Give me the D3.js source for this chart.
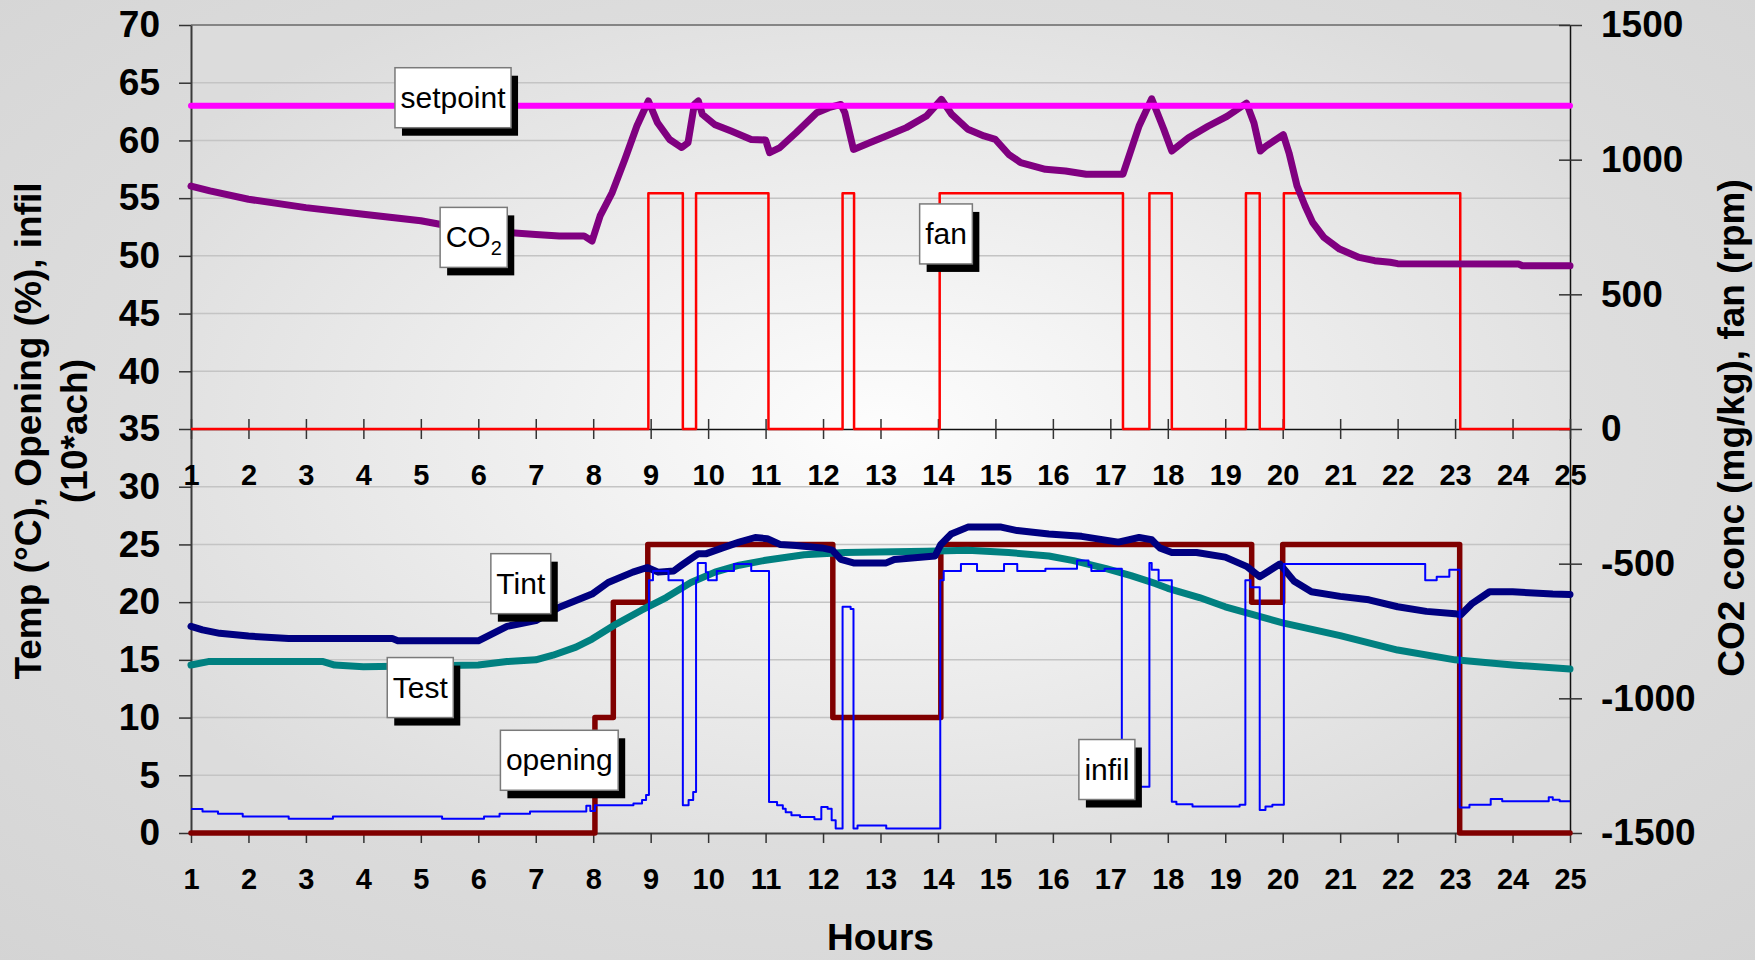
<!DOCTYPE html>
<html>
<head>
<meta charset="utf-8">
<script src="https://cdn.jsdelivr.net/npm/d3@7"></script>
<style>
  html, body { margin: 0; padding: 0; background: #dcdcdc; }
  svg { display: block; font-family: Arial, "Liberation Sans", sans-serif; }
</style>
</head>
<body>
<div id="chart"></div>
<script>
/*
	Greenhouse ventilation day: CO2 / fan on top, temperatures / opening / infil below
*/

// ---- data ----
var hourTicks = d3.range(1, 26);                 // 1 .. 25
var leftTicks = d3.range(0, 71, 5);              // 0 .. 70
var rightTicks = d3.range(-1500, 1501, 500);     // -1500 .. 1500

// [hour, mg/kg]
var setpoint = [[1, 1200], [25, 1200]];
var co2 = [[1, 902], [1.33, 884], [2, 853], [3, 822], [4, 797], [5, 773], [5.33, 760], [6, 742],
  [6.47, 730], [7, 722], [7.41, 717], [7.84, 717], [7.98, 698], [8.12, 791], [8.33, 878], [8.55, 1001],
  [8.76, 1125], [8.96, 1218], [9.12, 1137], [9.33, 1075], [9.54, 1045], [9.65, 1063], [9.76, 1205],
  [9.83, 1218], [9.9, 1168], [10.11, 1131], [10.4, 1106], [10.75, 1075], [11.0, 1073], [11.07, 1026],
  [11.25, 1045], [11.53, 1100], [11.89, 1174], [12.1, 1193], [12.31, 1205], [12.38, 1174], [12.53, 1038],
  [12.81, 1063], [13.1, 1088], [13.45, 1119], [13.8, 1162], [14.06, 1224], [14.24, 1168], [14.52, 1113],
  [14.8, 1088], [15.0, 1075], [15.23, 1020], [15.44, 989], [15.87, 964], [16.22, 958], [16.58, 946],
  [17.22, 946], [17.5, 1125], [17.72, 1226], [17.93, 1113], [18.07, 1032], [18.36, 1081], [18.7, 1124],
  [19.03, 1161], [19.37, 1210], [19.5, 1136], [19.61, 1032], [19.71, 1050], [20.01, 1093], [20.11, 1025],
  [20.25, 902], [20.39, 828], [20.52, 767], [20.72, 711], [20.99, 668], [21.33, 637], [21.6, 625],
  [21.87, 619], [22, 614], [24.1, 613], [24.17, 606], [25, 606]];

// [hour, rpm], value holds until the next entry
var fan = [[1, 0], [8.96, 875], [9.56, 0], [9.79, 875], [11.05, 0], [12.34, 875], [12.54, 0],
  [14.03, 875], [17.22, 0], [17.68, 875], [18.07, 0], [19.36, 875], [19.6, 0], [20.02, 875],
  [23.09, 0], [25, 0]];

// [hour, degC]
var tint = [[1, 17.9], [1.2, 17.6], [1.5, 17.3], [2, 17.06], [2.7, 16.86], [4.5, 16.86], [4.6, 16.65],
  [6, 16.65], [6.5, 17.9], [7, 18.4], [7.41, 19.56], [7.98, 20.7], [8.26, 21.7], [8.69, 22.6], [8.94, 23.0],
  [9.13, 22.6], [9.4, 22.7], [9.54, 23.2], [9.83, 24.2], [9.97, 24.2], [10.25, 24.7], [10.54, 25.2],
  [10.82, 25.6], [11.03, 25.5], [11.25, 25.0], [11.53, 24.9], [11.98, 24.7], [12.16, 24.5], [12.31, 23.7],
  [12.53, 23.4], [13.1, 23.4], [13.24, 23.7], [13.95, 24.0], [14.05, 25.0], [14.23, 25.9], [14.52, 26.5],
  [15.1, 26.5], [15.38, 26.2], [15.93, 25.9], [16.5, 25.7], [17.14, 25.2], [17.5, 25.6], [17.72, 25.4],
  [17.86, 24.7], [18.07, 24.3], [18.5, 24.3], [19.0, 23.9], [19.37, 23.1], [19.6, 22.2], [19.95, 23.3],
  [20.2, 21.8], [20.5, 20.9], [21.0, 20.5], [21.5, 20.2], [22.0, 19.6], [22.5, 19.2], [23.0, 19.0],
  [23.1, 18.9], [23.3, 19.9], [23.6, 20.9], [24.0, 20.9], [24.7, 20.7], [25, 20.66]];
var test = [[1, 14.55], [1.3, 14.85], [3.3, 14.85], [3.5, 14.55], [4, 14.4], [6, 14.55], [6.5, 14.85],
  [7, 15.0], [7.3, 15.4], [7.7, 16.1], [7.98, 16.8], [8.4, 18.1], [8.84, 19.3], [9.27, 20.4], [9.7, 21.7],
  [10.12, 22.6], [10.54, 23.2], [10.97, 23.6], [11.67, 24.1], [12.38, 24.3], [13.8, 24.4], [14.52, 24.5],
  [15.23, 24.3], [15.93, 24.0], [16.36, 23.6], [16.93, 22.9], [17.36, 22.3], [17.79, 21.6], [18.0, 21.2],
  [18.55, 20.4], [19, 19.6], [20, 18.2], [21, 17.1], [22, 15.85], [23, 15.0], [24, 14.55], [25, 14.2]];

// [hour, %], value holds until the next entry
var opening = [[1, 0], [8.03, 10], [8.35, 20], [8.95, 25], [12.17, 10], [14.05, 25], [19.46, 20],
  [20.0, 25], [23.08, 0], [25, 0]];

// [hour, 10*ach], value holds until the next entry
var infil = [[1, 2.07], [1.2, 1.87], [1.47, 1.67], [1.9, 1.44], [2.7, 1.24], [3.47, 1.44], [5.37, 1.24],
  [6.1, 1.44], [6.37, 1.67], [6.9, 1.87], [7.88, 2.35], [7.95, 1.9], [8.03, 2.4], [8.7, 2.55], [8.85, 2.85],
  [8.92, 3.3], [8.97, 21.9], [9.04, 22.7], [9.31, 21.9], [9.56, 2.4], [9.66, 2.85], [9.74, 3.55],
  [9.79, 21.9], [9.82, 23.4], [9.96, 22.6], [10.0, 21.9], [10.15, 22.7], [10.45, 23.3], [10.75, 22.7],
  [11.06, 2.68], [11.2, 2.4], [11.3, 2.1], [11.35, 1.8], [11.45, 1.53], [11.6, 1.38], [11.85, 1.2],
  [11.97, 2.25], [12.08, 2.1], [12.15, 1.1], [12.22, 0.4], [12.34, 19.6], [12.48, 19.4], [12.53, 0.4],
  [12.6, 0.66], [13.1, 0.4], [14.04, 21.9], [14.1, 22.7], [14.4, 23.3], [14.68, 22.7], [15.15, 23.3],
  [15.38, 22.7], [15.87, 22.9], [16.42, 23.6], [16.62, 23.2], [16.67, 22.7], [16.9, 22.9], [17.2, 4.0],
  [17.68, 23.4], [17.72, 22.8], [17.84, 21.9], [18.07, 2.7], [18.15, 2.5], [18.43, 2.3], [19.25, 2.45],
  [19.35, 21.9], [19.44, 21.3], [19.6, 2.0], [19.7, 2.3], [19.82, 2.45], [20.02, 23.3], [22.48, 21.9],
  [22.68, 22.2], [22.9, 22.8], [23.08, 2.2], [23.25, 2.45], [23.62, 2.94], [23.82, 2.74], [24.63, 3.1],
  [24.7, 2.88], [24.82, 2.74], [25, 2.74]];

// callout anchors (hour, left-axis value)
var callouts = [
  {text: "setpoint", hour: 5.56, value: 63.7},
  {text: "CO", sub: "2", hour: 5.92, value: 51.6},
  {text: "fan", hour: 14.14, value: 51.9},
  {text: "Tint", hour: 6.74, value: 21.6},
  {text: "Test", hour: 4.99, value: 12.6},
  {text: "opening", hour: 7.41, value: 6.3},
  {text: "infil", hour: 16.94, value: 5.5}
];

function makeChart() {
    var chartObj = {};
    chartObj.width = 1755;
    chartObj.height = 960;
    chartObj.plot = {left: 191, right: 1570, top: 25, bottom: 833};

    var p = chartObj.plot;
    chartObj.xScale = d3.scaleLinear().domain([1, 25]).range([p.left, p.right]);
    chartObj.yLeft = d3.scaleLinear().domain([0, 70]).range([p.bottom, p.top]);
    chartObj.yRight = d3.scaleLinear().domain([-1500, 1500]).range([p.bottom, p.top]);

    chartObj.render = function (chart_id) {
        var x = chartObj.xScale, yL = chartObj.yLeft, yR = chartObj.yRight;

        var svg = d3.select(chart_id).append("svg")
            .attr("width", chartObj.width)
            .attr("height", chartObj.height);

        // gradients
        var defs = svg.append("defs");
        var bg = defs.append("radialGradient").attr("id", "bgGrad")
            .attr("cx", "50%").attr("cy", "45%").attr("r", "75%");
        bg.append("stop").attr("offset", "0%").attr("stop-color", "#e9e9e9");
        bg.append("stop").attr("offset", "100%").attr("stop-color", "#d4d4d4");
        var pg = defs.append("radialGradient").attr("id", "plotGrad")
            .attr("cx", "50%").attr("cy", "50%").attr("r", "62%");
        pg.append("stop").attr("offset", "0%").attr("stop-color", "#fdfdfd");
        pg.append("stop").attr("offset", "100%").attr("stop-color", "#dcdcdc");

        svg.append("rect").attr("width", chartObj.width).attr("height", chartObj.height)
            .attr("fill", "url(#bgGrad)");
        svg.append("rect")
            .attr("x", p.left).attr("y", p.top)
            .attr("width", p.right - p.left).attr("height", p.bottom - p.top)
            .attr("fill", "url(#plotGrad)");

        // horizontal gridlines
        svg.append("g").selectAll("line")
            .data(leftTicks.filter(function (d) { return d > 0 && d < 70 && d !== 35; }))
            .enter().append("line")
            .attr("x1", p.left).attr("x2", p.right)
            .attr("y1", function (d) { return yL(d); })
            .attr("y2", function (d) { return yL(d); })
            .attr("stroke", "#c4c4c4").attr("stroke-width", 1.5);
        svg.append("line")
            .attr("x1", p.left).attr("x2", p.right)
            .attr("y1", yL(70)).attr("y2", yL(70))
            .attr("stroke", "#858585").attr("stroke-width", 2);

        // axes
        var tickFont = function (g, size) {
            g.attr("font-family", "Arial, 'Liberation Sans', sans-serif")
             .attr("font-size", size).attr("font-weight", "bold");
            g.selectAll("text").attr("fill", "#000");
            g.selectAll("line").attr("stroke", "#333").attr("stroke-width", 1.5);
        };
        var plain = function (d) { return String(d); };

        var gLeft = svg.append("g")
            .attr("transform", "translate(" + p.left + ",0)")
            .call(d3.axisLeft(yL).tickValues(leftTicks).tickFormat(plain)
                .tickSizeInner(12).tickSizeOuter(0).tickPadding(19));
        tickFont(gLeft, 37);
        gLeft.select(".domain").attr("stroke", "#3a3a3a").attr("stroke-width", 2);

        var gRight = svg.append("g")
            .attr("transform", "translate(" + p.right + ",0)")
            .call(d3.axisRight(yR).tickValues(rightTicks).tickFormat(plain)
                .tickSizeInner(12).tickSizeOuter(0).tickPadding(19));
        gRight.selectAll(".tick").append("line").attr("x1", -11).attr("x2", 0);
        tickFont(gRight, 37);
        gRight.select(".domain").attr("stroke", "#111").attr("stroke-width", 1.5);

        var xAxis = d3.axisBottom(x).tickValues(hourTicks).tickFormat(plain)
            .tickSizeInner(10).tickSizeOuter(0).tickPadding(25);

        var gMid = svg.append("g")
            .attr("transform", "translate(0," + yL(35) + ")")
            .call(xAxis);
        gMid.selectAll(".tick").append("line").attr("y1", -10).attr("y2", 0);
        tickFont(gMid, 29);
        gMid.select(".domain").attr("stroke", "#111").attr("stroke-width", 1.5);

        var gBottom = svg.append("g")
            .attr("transform", "translate(0," + p.bottom + ")")
            .call(xAxis);
        tickFont(gBottom, 29);
        gBottom.select(".domain").attr("stroke", "#444").attr("stroke-width", 2);

        // series
        var lineL = d3.line().x(function (d) { return x(d[0]); }).y(function (d) { return yL(d[1]); });
        var lineR = d3.line().x(function (d) { return x(d[0]); }).y(function (d) { return yR(d[1]); });
        var stepL = d3.line().curve(d3.curveStepAfter)
            .x(function (d) { return x(d[0]); }).y(function (d) { return yL(d[1]); });
        var stepR = d3.line().curve(d3.curveStepAfter)
            .x(function (d) { return x(d[0]); }).y(function (d) { return yR(d[1]); });

        var series = [
            {data: fan, gen: stepR, color: "#ff0000", w: 2.5},
            {data: opening, gen: stepL, color: "#800000", w: 5.5},
            {data: test, gen: lineL, color: "#008080", w: 7},
            {data: tint, gen: lineL, color: "#000080", w: 7},
            {data: infil, gen: stepL, color: "#0000ff", w: 2},
            {data: co2, gen: lineR, color: "#800080", w: 7},
            {data: setpoint, gen: lineR, color: "#ff00ff", w: 6}
        ];
        svg.append("g").selectAll("path")
            .data(series)
            .enter().append("path")
            .attr("d", function (s) { return s.gen(s.data); })
            .attr("fill", "none")
            .attr("stroke", function (s) { return s.color; })
            .attr("stroke-width", function (s) { return s.w; })
            .attr("stroke-linejoin", "round")
            .attr("stroke-linecap", function (s) { return s.w > 4 ? "round" : "butt"; });

        // callouts
        var c = svg.append("g").selectAll("g")
            .data(callouts)
            .enter().append("g")
            .attr("transform", function (d) { return "translate(" + x(d.hour) + "," + yL(d.value) + ")"; });
        var txt = c.append("text")
            .attr("font-size", 30)
            .attr("text-anchor", "middle")
            .attr("y", 10)
            .text(function (d) { return d.text; });
        txt.filter(function (d) { return d.sub; })
            .append("tspan").attr("font-size", 20).attr("dy", 8)
            .text(function (d) { return d.sub; });
        c.each(function () {
            var g = d3.select(this);
            var w = g.select("text").node().getComputedTextLength() + 11;
            g.insert("rect", "text")
                .attr("x", -w / 2 + 7).attr("y", -30 + 8)
                .attr("width", w).attr("height", 60).attr("fill", "#000");
            g.insert("rect", "text")
                .attr("x", -w / 2).attr("y", -30)
                .attr("width", w).attr("height", 60)
                .attr("fill", "#fff").attr("stroke", "#7a7a7a").attr("stroke-width", 1.5);
        });

        // axis titles
        var title = svg.append("g").attr("font-weight", "bold").attr("font-size", 37).attr("fill", "#000");
        title.append("text")
            .attr("transform", "translate(41," + 431 + ") rotate(-90)")
            .attr("text-anchor", "middle")
            .text("Temp (°C), Opening (%), infil");
        title.append("text")
            .attr("transform", "translate(87," + 431 + ") rotate(-90)")
            .attr("text-anchor", "middle")
            .text("(10*ach)");
        title.append("text")
            .attr("transform", "translate(1744," + 428 + ") rotate(-90)")
            .attr("text-anchor", "middle")
            .text("CO2 conc (mg/kg), fan (rpm)");
        title.append("text")
            .attr("x", (p.left + p.right) / 2).attr("y", 950)
            .attr("text-anchor", "middle")
            .text("Hours");

        return chartObj;
    };

    return chartObj;
}

makeChart().render("#chart");
</script>
</body>
</html>
